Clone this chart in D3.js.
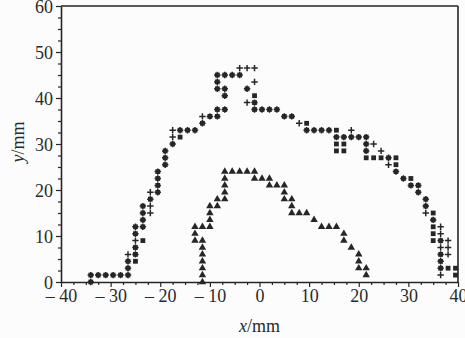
<!DOCTYPE html>
<html>
<head>
<meta charset="utf-8">
<script src="https://cdn.jsdelivr.net/npm/d3@7"></script>
<style>
  body { margin: 0; background: #fcfcfc; }
  text { font-family: "Liberation Serif", "Times New Roman", serif; fill: #2a2a2a; }
</style>
</head>
<body>
<svg id="chart" width="465" height="338"></svg>
<script>
// axis ranges and ticks
const xDomain = [-40, 40];
const yDomain = [0, 60];
const xTickValues = d3.range(-40, 40.01, 2.5);
const yTickValues = d3.range(0, 60.01, 2.5);

// points where the "+" and the square series coincide (drawn as both)
const overlapPts = [
  [-34, 0],
  [-34, 1.5], [-32.5, 1.5], [-31, 1.5], [-29.5, 1.5], [-28, 1.5], [-26.5, 1.5],
  [-26.5, 3], [-26.5, 4.5],
  [-25, 6], [-25, 7.5], [-25, 10.5], [-25, 12],
  [-23.5, 12], [-23.5, 13.5], [-23.5, 15], [-23.5, 16.5],
  [-22, 18],
  [-20.5, 19.5], [-20.5, 21], [-20.5, 22.5], [-20.5, 24],
  [-19, 25.5], [-19, 27], [-19, 28.5],
  [-17.5, 30],
  [-16, 33], [-14.5, 33], [-13, 33],
  [-11.5, 34.5],
  [-10, 36], [-8.5, 36],
  [-8.5, 37.5], [-7, 37.5],
  [-7, 40.5], [-8.5, 42], [-7, 42], [-8.5, 43.5],
  [-8.5, 45], [-7, 45], [-5.5, 45], [-4, 45],
  [-2.5, 42], [-1, 39], [-1, 37.5],
  [0.5, 37.5], [2, 37.5], [3.5, 37.5],
  [5, 36], [6.5, 36],
  [9.5, 33], [11, 33], [12.5, 33], [14, 33],
  [15.5, 31.5], [17, 31.5], [18.5, 31.5], [20, 31.5], [21.5, 31.5],
  [21.5, 30], [21.5, 28.5],
  [26, 27], [27.5, 24],
  [29, 22.5], [30.5, 21], [32, 21], [32, 19.5], [33.5, 18], [33.5, 16.5], [35, 13.5],
  [36.5, 9], [36.5, 6], [36.5, 4.5], [36.5, 3]
];

// "+" only
const plusPts = [
  [-26.5, 6], [-25, 9], [-22, 15], [-22, 16.5], [-22, 19.5],
  [-17.5, 31.5], [-17.5, 33], [-11.5, 36],
  [-4, 46.5], [-2.5, 46.5], [-1, 46.5], [-1, 43.5], [-2.5, 39],
  [8, 34.5], [18.5, 33], [23, 30], [24.5, 28.5], [26, 25.5], [33.5, 15],
  [36.5, 12], [36.5, 10.5], [38, 9], [36.5, 7.5], [38, 7.5], [38, 6], [36.5, 1.5]
];

// square only
const squarePts = [
  [-25, 4.5], [-23.5, 9], [-16, 31.5], [-1, 40.5], [9.5, 34.5], [15.5, 33],
  [15.5, 30], [17, 30], [15.5, 28.5], [17, 28.5],
  [21.5, 27], [23, 27], [24.5, 27], [27.5, 27], [27.5, 25.5],
  [30.5, 22.5], [35, 15], [35, 12], [35, 10.5], [35, 9],
  [38, 3], [39.5, 3], [39.5, 1.5]
];

// triangles
const trianglePts = [
  [-13, 12], [-13, 10.5], [-13, 9],
  [-11.5, 12], [-11.5, 9], [-11.5, 7.5], [-11.5, 6], [-11.5, 4.5], [-11.5, 3], [-11.5, 1.5], [-11.5, 0],
  [-10, 12], [-10, 13.5], [-10, 15], [-10, 16.5],
  [-8.5, 16.5], [-8.5, 18],
  [-7, 18], [-7, 19.5], [-7, 21], [-7, 22.5], [-7, 24],
  [-5.5, 24], [-4, 24], [-2.5, 24], [-1, 24],
  [-1, 22.5], [0.5, 22.5], [2, 22.5],
  [2, 21], [3.5, 21], [5, 21],
  [5, 19.5], [5, 18], [6.5, 18], [6.5, 16.5], [6.5, 15], [8, 15], [9.5, 15],
  [11, 13.5],
  [12.5, 12], [14, 12], [15.5, 12],
  [17, 10.5], [17, 9],
  [18.5, 7.5],
  [20, 6], [20, 4.5], [20, 3],
  [21.5, 3], [21.5, 1.5]
];

const ink = "#262626";
const svg = d3.select("#chart");

const x = d3.scaleLinear().domain(xDomain).range([61, 458]);
const y = d3.scaleLinear().domain(yDomain).range([282, 6]);

const fmtX = d => d % 10 !== 0 ? "" : (d < 0 ? "\u2013 " + (-d) : String(d));
const fmtY = d => d % 10 !== 0 ? "" : String(d);

// x axis
const gx = svg.append("g")
  .attr("transform", `translate(0,${y(0)})`)
  .call(d3.axisBottom(x).tickValues(xTickValues).tickSize(4).tickSizeOuter(0).tickFormat(fmtX));
gx.select(".domain").attr("stroke", ink).attr("stroke-width", 1.6);
gx.selectAll(".tick line").attr("stroke", ink).attr("stroke-width", 1.2)
  .attr("y2", d => d % 10 === 0 ? 5 : 3);
gx.selectAll(".tick text").attr("font-size", 18).attr("dy", "0.82em").attr("y", 5)
  .attr("fill", ink).style("font-family", "Liberation Serif");

// y axis
const gy = svg.append("g")
  .attr("transform", `translate(${x(-40)},0)`)
  .call(d3.axisLeft(y).tickValues(yTickValues).tickSize(4).tickSizeOuter(0).tickFormat(fmtY));
gy.select(".domain").attr("stroke", ink).attr("stroke-width", 1.6);
gy.selectAll(".tick line").attr("stroke", ink).attr("stroke-width", 1.2)
  .attr("x2", d => d % 10 === 0 ? -5 : -3);
gy.selectAll(".tick text").attr("font-size", 18).attr("x", -8).attr("dy", "0.35em")
  .attr("fill", ink).style("font-family", "Liberation Serif");

// frame top and right
svg.append("line")
  .attr("x1", x(-40)).attr("x2", x(40)).attr("y1", y(60)).attr("y2", y(60))
  .attr("stroke", ink).attr("stroke-width", 1.6);
svg.append("line")
  .attr("x1", x(40)).attr("x2", x(40)).attr("y1", y(60)).attr("y2", y(0))
  .attr("stroke", ink).attr("stroke-width", 1.6);

// axis titles
svg.append("text")
  .attr("x", (x(-40) + x(40)) / 2).attr("y", 332)
  .attr("text-anchor", "middle").attr("font-size", 18)
  .html('<tspan font-style="italic">x</tspan>/mm');
svg.append("text")
  .attr("transform", `translate(24,${(y(0) + y(60)) / 2 - 2}) rotate(-90)`)
  .attr("text-anchor", "middle").attr("font-size", 18)
  .html('<tspan font-style="italic">y</tspan>/mm');

// markers
const plusAll = plusPts.concat(overlapPts);
const squareAll = squarePts.concat(overlapPts);

svg.append("g").selectAll("rect")
  .data(squareAll)
  .enter()
  .append("rect")
  .attr("x", d => x(d[0]) - 2.4)
  .attr("y", d => y(d[1]) - 2.4)
  .attr("width", 4.8)
  .attr("height", 4.8)
  .attr("fill", ink);

svg.append("g").selectAll("path")
  .data(plusAll)
  .enter()
  .append("path")
  .attr("d", d => `M${x(d[0]) - 3.2},${y(d[1])}H${x(d[0]) + 3.2}M${x(d[0])},${y(d[1]) - 3.2}V${y(d[1]) + 3.2}`)
  .attr("stroke", ink)
  .attr("stroke-width", 1.5);

const tri = d3.symbol().type(d3.symbolTriangle).size(24);
svg.append("g").selectAll("path")
  .data(trianglePts)
  .enter()
  .append("path")
  .attr("transform", d => `translate(${x(d[0])},${y(d[1])})`)
  .attr("d", tri)
  .attr("fill", ink);
</script>
</body>
</html>
